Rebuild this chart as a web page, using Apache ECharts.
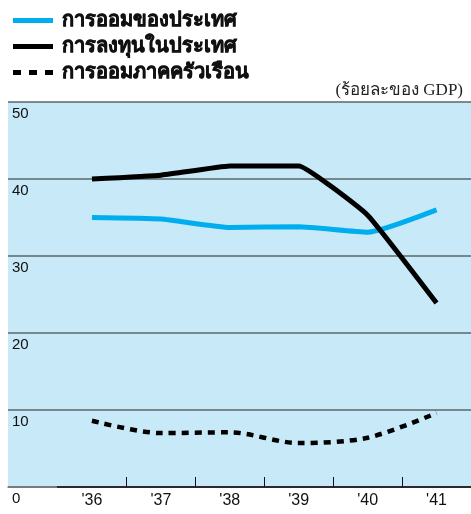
<!DOCTYPE html>
<html>
<head>
<meta charset="utf-8">
<script src="https://cdn.jsdelivr.net/npm/echarts@6/dist/echarts.min.js"></script>
<style>
  html, body { margin: 0; padding: 0; background: #fff; }
  #chart { width: 471px; height: 514px; }
</style>
</head>
<body>
<div id="chart"></div>
<script>
// ข้อมูล (ร้อยละของ GDP)
var years = ["'36", "'37", "'38", "'39", "'40", "'41"];
var nationalSaving = [35.0, 34.8, 33.7, 33.8, 33.1, 36.0];
var domesticInvestment = [40.0, 40.5, 41.7, 41.7, 35.3, 23.9];
var householdSaving = [8.6, 7.0, 7.1, 5.7, 6.4, 9.6];
var yTicks = [0, 10, 20, 30, 40, 50];

var chart = echarts.init(document.getElementById('chart'));

var thaiFont = '"Noto Sans", "DejaVu Sans", sans-serif';
var solidIcon = 'path://M0,0h40v5h-40z';
var dashIcon = 'path://M0,0h8v5h-8z M16,0h8v5h-8z M32,0h8v5h-8z';

var option = {
    animation: false,
    title: {
        text: '(ร้อยละของ GDP)',
        right: 3,
        top: 77,
        textStyle: {
            fontFamily: '"Liberation Serif", "DejaVu Serif", serif',
            fontWeight: 'normal',
            fontSize: 17,
            color: '#222'
        }
    },
    legend: {
        orient: 'vertical',
        left: 8,
        top: 4,
        itemWidth: 40,
        itemHeight: 5,
        itemGap: 3,
        data: [
            { name: 'การออมของประเทศ', icon: solidIcon },
            { name: 'การลงทุนในประเทศ', icon: solidIcon },
            { name: 'การออมภาคครัวเรือน', icon: dashIcon }
        ],
        textStyle: {
            fontFamily: thaiFont,
            fontWeight: 'bold',
            fontSize: 20,
            lineHeight: 23,
            padding: [0, 0, 0, 4],
            color: '#111',
            textBorderColor: '#111',
            textBorderWidth: 0.6
        }
    },
    grid: [
        // พื้นหลังและเส้นแบ่ง
        { left: 8, right: 0, top: 102, height: 385, show: true,
          backgroundColor: '#c8e9f8', borderWidth: 0 },
        // ข้อมูล
        { left: 57.5, right: 0, top: 102, height: 385 }
    ],
    xAxis: [
        { gridIndex: 0, type: 'value', min: 0, max: 1,
          axisLine: { show: true, onZero: false, lineStyle: { color: '#777', width: 1.5 } },
          axisTick: { show: false }, axisLabel: { show: false }, splitLine: { show: false } },
        { gridIndex: 1, type: 'category', data: years, boundaryGap: true,
          axisLine: { show: true, lineStyle: { color: '#111', width: 1.5 } },
          axisTick: { show: true, inside: true, length: 10,
                      interval: function (i) { return i > 0; },
                      lineStyle: { color: '#111', width: 1 } },
          axisLabel: { margin: 6, fontSize: 16, color: '#111',
                       fontFamily: '"Liberation Sans", Arial, sans-serif' } }
    ],
    yAxis: [
        { gridIndex: 0, type: 'value', min: 0, max: 50, interval: 10,
          axisLine: { show: false }, axisTick: { show: false },
          axisLabel: { inside: true, margin: 4, align: 'left', verticalAlign: 'top',
                       padding: [4, 0, 0, 0], fontSize: 15, color: '#111',
                       fontFamily: '"Liberation Sans", Arial, sans-serif' },
          splitLine: { show: true, lineStyle: { color: '#5b666b', width: 1.5 } } },
        { gridIndex: 1, type: 'value', min: 0, max: 50, show: false }
    ],
    series: [
        {
            name: 'การออมของประเทศ',
            type: 'line',
            xAxisIndex: 1, yAxisIndex: 1,
            data: nationalSaving,
            symbol: 'none',
            smooth: 0.15,
            color: '#00aeef',
            lineStyle: { color: '#00aeef', width: 5 }
        },
        {
            name: 'การลงทุนในประเทศ',
            type: 'line',
            xAxisIndex: 1, yAxisIndex: 1,
            data: domesticInvestment,
            symbol: 'none',
            smooth: 0.1,
            color: '#000',
            lineStyle: { color: '#000', width: 5 }
        },
        {
            name: 'การออมภาคครัวเรือน',
            type: 'line',
            xAxisIndex: 1, yAxisIndex: 1,
            data: householdSaving,
            symbol: 'none',
            smooth: 0.3,
            color: '#000',
            lineStyle: { color: '#000', width: 4.5, type: [7, 6] }
        }
    ]
};

chart.setOption(option);
</script>
</body>
</html>
